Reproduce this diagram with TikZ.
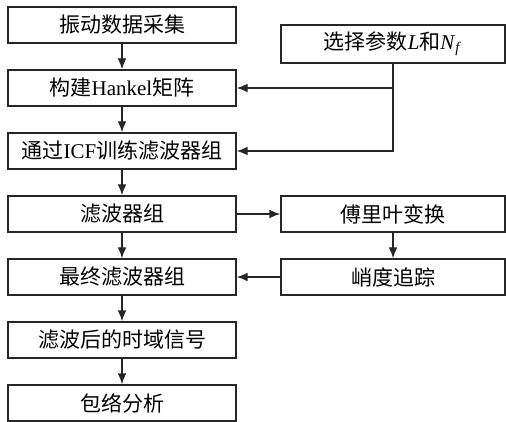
\documentclass[tikz,border=0pt]{standalone}
\usepackage{fontspec}
\setmainfont{Liberation Serif}
\newfontfamily\cjk{Noto Sans CJK SC}
\usetikzlibrary{positioning,arrows.meta}

\begin{document}
\begin{tikzpicture}[x=0.5pt,y=-0.5pt,node distance=31.5pt,on grid,
    blk/.style={draw=black!85,line width=0.7pt,minimum width=114pt,minimum height=18pt,
      inner sep=0pt,font=\fontsize{10.5}{12}\selectfont},
    rblk/.style={blk,minimum width=112pt},
    >={Latex[length=5.5pt,width=4.4pt]}]
  \useasboundingbox (0,0) rectangle (506,421);
  % left column
  \node[blk] (B1) at (122,25) {\cjk 振动数据采集};
  \node[blk] (B2) [below=of B1] {{\cjk 构建}Hankel{\cjk 矩阵}};
  \node[blk] (B3) [below=of B2] {{\cjk 通过}ICF{\cjk 训练滤波器组}};
  \node[blk] (B4) [below=of B3] {\cjk 滤波器组};
  \node[blk] (B5) [below=of B4] {\cjk 最终滤波器组};
  \node[blk] (B6) [below=of B5] {\cjk 滤波后的时域信号};
  \node[blk] (B7) [below=of B6] {\cjk 包络分析};
  % right column
  \node[rblk,minimum height=19pt] (SEL) at (393,44) {{\cjk 选择参数}\textit{L}{\cjk 和}\textit{N}\textsubscript{\textit{f}}};
  \node[rblk] (FT) [right=135.5pt of B4] {\cjk 傅里叶变换};
  \node[rblk] (KT) [below=of FT] {\cjk 峭度追踪};
  \begin{scope}[draw=black!85,line width=0.7pt]
    \foreach \a/\b in {B1/B2,B2/B3,B3/B4,B4/B5,B5/B6,B6/B7}
      \draw[->] (\a) -- (\b);
    \draw[->] (B4) -- (FT);
    \draw[->] (FT) -- (KT);
    \draw[->] (KT) -- (B5);
    \draw[->] (SEL.south) |- (B2.east);
    \draw[->] (SEL.south) |- (B3.east);
  \end{scope}
\end{tikzpicture}
\end{document}
